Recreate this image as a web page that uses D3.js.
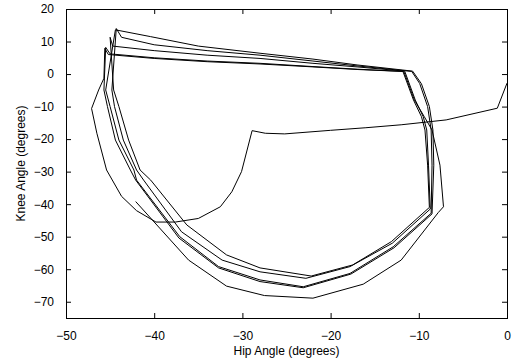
<!DOCTYPE html>
<html>
<head>
<meta charset="utf-8">
<script src="https://cdn.jsdelivr.net/npm/d3@7"></script>
<style>
  body { margin: 0; background: #fff; }
  svg { display: block; font-family: "Liberation Sans", Arial, sans-serif; }
</style>
</head>
<body>
<div id="chart"></div>
<script>
// [hip, knee] samples, degrees
const approach = [[0,-2.8],[-1.1,-10.5],[-6.9,-14.1],[-12,-15.6],[-16,-16.5],[-20,-17.3],[-25.2,-18.4],[-27.4,-18.2],[-28.9,-17.4],[-30.1,-30.0],[-31.2,-36.2],[-32.5,-40.8],[-35.0,-44.4],[-37.6,-45.5],[-39.8,-45.5],[-42.0,-42.0],[-43.7,-37.6],[-45.4,-29.5],[-46.5,-18.2],[-47.1,-10.6],[-46.3,-4.9],[-45.7,-1.3]];
const cycle1 = [[-45.6,7.9],[-45.2,6.0],[-40,4.8],[-34,3.8],[-28,3.1],[-22,2.2],[-17,1.4],[-11.8,0.8],[-10.6,-8],[-9.7,-13.1],[-9.3,-17.2],[-9.0,-28],[-8.8,-41.0],[-13.1,-51.5],[-17.5,-58.7],[-22.2,-62.1],[-28,-59.6],[-31.8,-55.6],[-36.3,-46.4],[-40.4,-32.6],[-41.6,-29.5],[-42.9,-20.3],[-44.0,-10],[-44.6,-4.9]];
const cycle2 = [[-45.0,11.3],[-44.7,8.6],[-40,7.2],[-34,5.8],[-28,4.8],[-22,3.3],[-17,2.2],[-11.6,0.9],[-10.4,-8],[-9.5,-13.1],[-9.1,-17.2],[-8.9,-28],[-8.7,-41.5],[-13.0,-52],[-17.8,-59.2],[-22.8,-62.8],[-28,-60.8],[-32.3,-57.2],[-36.9,-48.5],[-41.2,-32.6],[-42.0,-29.5],[-43.5,-20.3],[-44.5,-10],[-44.8,-4.9]];
const cycle3 = [[-44.3,14.0],[-43.7,11.3],[-40,9.0],[-34,7.2],[-28,5.8],[-22,4.0],[-17,2.5],[-10.8,0.8],[-9.9,-2.9],[-9.0,-10],[-8.6,-17.2],[-8.5,-28],[-8.6,-42.8],[-12.9,-53.1],[-17.8,-61.3],[-23.1,-65.4],[-28,-63.3],[-32.7,-59.2],[-37.1,-50],[-42,-32.6],[-42.3,-29.5],[-44,-20.3],[-45,-10],[-45.5,-4.9]];
const cycle4 = [[-44.4,13.6],[-40.4,11.5],[-35,8.6],[-28,6.4],[-22,4.6],[-17,2.8],[-10.7,0.9],[-9.7,-3],[-8.8,-10],[-8.4,-17.2],[-8.3,-28],[-8.5,-43],[-12.8,-53.4],[-17.7,-61.5],[-23.1,-65.7],[-28,-63.8],[-32.7,-59.6],[-37.2,-50.4],[-42.1,-32.6],[-42.7,-29.5],[-44.4,-20.3],[-45.3,-10],[-45.7,-4.9]];
const cycle5 = [[-45.5,8.2],[-45.0,6.2],[-40,5.0],[-34,4.0],[-28,3.3],[-22,2.3],[-17,1.5],[-11.7,0.8],[-10.5,-8],[-9.4,-13],[-8.5,-17.2],[-7.6,-28],[-7.2,-40.8],[-7.8,-42.6],[-12,-57.2],[-16.3,-64.6],[-22,-68.9],[-27.5,-68.1],[-31.8,-65.2],[-36.1,-57.2],[-42.1,-39.2]];
const xTicks = [-50, -40, -30, -20, -10, 0];
const yTicks = [-70, -60, -50, -40, -30, -20, -10, 0, 10, 20];

const W = 513, H = 364;
const m = { left: 66, right: 6, top: 9, bottom: 46 };

const svg = d3.select("#chart").append("svg")
  .attr("width", W).attr("height", H);

const x = d3.scaleLinear().domain([-50, 0]).range([m.left, W - m.right]);
const y = d3.scaleLinear().domain([-75, 20]).range([H - m.bottom, m.top]);

const path = approach.concat(cycle1, cycle2, cycle3, cycle4, cycle5);

svg.append("defs").append("clipPath").attr("id", "clip")
  .append("rect")
  .attr("x", m.left).attr("y", m.top)
  .attr("width", W - m.left - m.right).attr("height", H - m.top - m.bottom);

svg.append("path")
  .datum(path)
  .attr("clip-path", "url(#clip)")
  .attr("fill", "none")
  .attr("stroke", "#000")
  .attr("stroke-width", 1)
  .attr("stroke-linejoin", "miter")
  .attr("d", d3.line().x(d => x(d[0])).y(d => y(d[1])));

// axes, ticks pointing inward, mirrored on top/right
function styleAxis(g) {
  g.select(".domain").remove();
  g.selectAll(".tick line").attr("stroke", "#000");
  g.selectAll(".tick text").attr("fill", "#000").attr("font-size", 12);
}
svg.append("g").attr("transform", `translate(0,${H - m.bottom})`)
  .call(d3.axisBottom(x).tickValues(xTicks).tickSizeInner(-5).tickSizeOuter(0).tickPadding(13))
  .call(styleAxis);
svg.append("g").attr("transform", `translate(${m.left},0)`)
  .call(d3.axisLeft(y).tickValues(yTicks).tickSizeInner(-5).tickSizeOuter(0).tickPadding(12))
  .call(styleAxis);
svg.append("g").attr("transform", `translate(0,${m.top})`)
  .call(d3.axisTop(x).tickValues(xTicks).tickSizeInner(-5).tickSizeOuter(0).tickFormat(""))
  .call(styleAxis);
svg.append("g").attr("transform", `translate(${W - m.right},0)`)
  .call(d3.axisRight(y).tickValues(yTicks).tickSizeInner(-5).tickSizeOuter(0).tickFormat(""))
  .call(styleAxis);

svg.append("rect")
  .attr("x", m.left + 0.5).attr("y", m.top + 0.5)
  .attr("width", W - m.left - m.right).attr("height", H - m.top - m.bottom)
  .attr("fill", "none").attr("stroke", "#000");

svg.append("text")
  .attr("x", (m.left + W - m.right) / 2).attr("y", H - 9)
  .attr("text-anchor", "middle").attr("font-size", 12)
  .text("Hip Angle (degrees)");
svg.append("text")
  .attr("transform", `translate(25,${(m.top + H - m.bottom) / 2}) rotate(-90)`)
  .attr("text-anchor", "middle").attr("font-size", 12)
  .text("Knee Angle (degrees)");
</script>
</body>
</html>
